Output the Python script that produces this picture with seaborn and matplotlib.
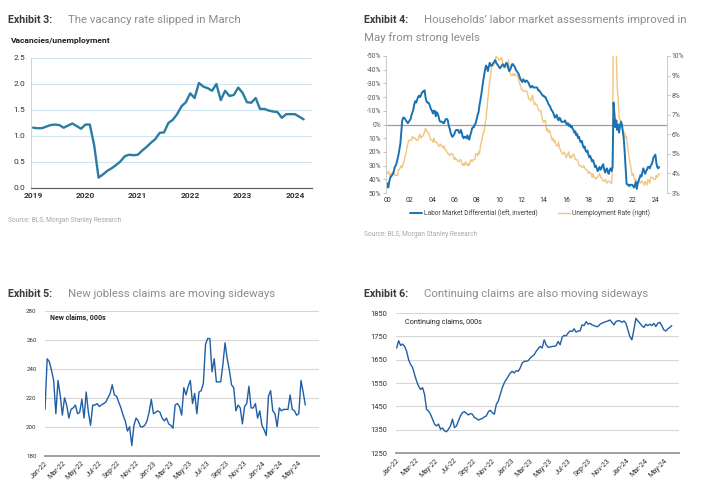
import numpy as np
import pandas as pd
import matplotlib
matplotlib.use('Agg')
import matplotlib.pyplot as plt
from matplotlib.lines import Line2D
import seaborn as sns

# ---------------- DATA ----------------
# Exhibit 3: vacancies / unemployment, monthly Jan-2019 .. Mar-2024
vu_ratio = [1.16, 1.15, 1.15, 1.18, 1.21, 1.22, 1.21, 1.16, 1.20, 1.24, 1.19, 1.14,
            1.22, 1.22, 0.82, 0.20, 0.26, 0.33, 0.38, 0.44, 0.51, 0.61, 0.64, 0.63,
            0.64, 0.72, 0.79, 0.87, 0.94, 1.06, 1.07, 1.25, 1.31, 1.42, 1.57, 1.65,
            1.82, 1.73, 2.02, 1.95, 1.92, 1.87, 2.00, 1.69, 1.87, 1.77, 1.79, 1.93,
            1.83, 1.65, 1.64, 1.73, 1.52, 1.52, 1.49, 1.47, 1.46, 1.35, 1.42, 1.42,
            1.42, 1.37, 1.32]
years3 = [2019, 2020, 2021, 2022, 2023, 2024]

# Exhibit 4: labor market differential (%, plotted inverted), monthly from Jan-2000
labor_diff = [43, 46, 42, 39, 38, 37, 36, 34, 31, 30, 28, 25, 22, 18, 14,
              5, -3, -5, -5, -4, -3, -2, -1, -2, -3, -4, -7, -9, -11, -15,
              -17, -16, -18, -20, -21, -20, -21, -23, -24, -24, -25, -20, -17, -16, -16,
              -15, -13, -11, -10, -8, -10, -10, -6, -9, -8, -6, -3, -2, -2, -2,
              -1, -1, -3, -4, -4, -3, 1, 3, 6, 8, 9, 8, 7, 5, 4,
              4, 4, 6, 6, 4, 6, 9, 10, 9, 9, 10, 8, 10, 11, 8,
              6, 3, 2, 2, 0, -1, -4, -7, -9, -14, -18, -22, -27, -32, -36,
              -40, -43, -42, -39, -42, -45, -43, -43, -44, -45, -46, -47, -45, -44, -43,
              -42, -41, -42, -43, -44, -43, -42, -44, -45, -44, -41, -39, -40, -42, -44,
              -44, -43, -42, -40, -39, -38, -37, -35, -33, -32,
              -31, -33, -32, -31, -32, -32, -31, -30, -28, -27, -28, -28, -27, -27, -27,
              -27, -27, -25, -25, -24, -23, -22, -21, -21, -20, -20, -18, -17, -15, -14,
              -13, -11, -10, -9, -7, -5, -6, -7, -4, -3, -5, -4, -2, -2, -2,
              -2, -3, -1, 0, -1, 1, 0, 2, 1, 3, 4, 6, 5, 8, 7,
              10, 9, 12, 13, 12, 15, 17, 16, 19, 20, 19, 22, 24, 23, 25,
              27, 26, 28, 31, 30, 32, 34, 33, 31, 33, 32, 30, 29, 33, 35,
              33, 32, 35, 36, 33, 32, 34, 31,
              -16, -8, 2, -3, 4, 0, 6, 1, -2, 0, 5, 10, 20, 32, 43,
              44, 44, 45, 44, 44, 44, 45, 46, 44, 42, 47, 43, 41, 39, 37,
              38, 35, 32, 34, 36, 34, 33, 31, 31, 32, 30, 29, 27, 24, 23,
              22, 28, 31, 32, 31]

# Exhibit 4: unemployment rate (%), monthly from Jan-2000
unemp_rate = [4.0, 4.1, 4.0, 3.8, 4.0, 4.0, 4.0, 4.1, 3.9, 3.9, 3.9, 3.9,
              4.2, 4.2, 4.3, 4.4, 4.3, 4.5, 4.6, 4.9, 5.0, 5.3, 5.5, 5.7,
              5.7, 5.7, 5.7, 5.9, 5.8, 5.8, 5.8, 5.7, 5.7, 5.7, 5.9, 6.0,
              5.8, 5.9, 5.9, 6.0, 6.1, 6.3, 6.2, 6.1, 6.1, 6.0, 5.8, 5.7,
              5.7, 5.6, 5.8, 5.6, 5.6, 5.6, 5.5, 5.4, 5.4, 5.5, 5.4, 5.4,
              5.3, 5.4, 5.2, 5.2, 5.1, 5.0, 5.0, 4.9, 5.0, 5.0, 5.0, 4.9,
              4.7, 4.8, 4.7, 4.7, 4.6, 4.6, 4.7, 4.7, 4.5, 4.4, 4.5, 4.4,
              4.6, 4.5, 4.4, 4.5, 4.4, 4.6, 4.7, 4.6, 4.7, 4.7, 4.7, 5.0,
              5.0, 4.9, 5.1, 5.0, 5.4, 5.6, 5.8, 6.1, 6.1, 6.5, 6.8, 7.3,
              7.8, 8.3, 8.7, 9.0, 9.4, 9.5, 9.5, 9.6, 9.8, 10.0, 9.9, 9.9,
              9.8, 9.8, 9.9, 9.9, 9.6, 9.4, 9.4, 9.5, 9.5, 9.4, 9.8, 9.3,
              9.1, 9.0, 9.0, 9.1, 9.0, 9.1, 9.0, 9.0, 9.0, 8.8, 8.6, 8.5,
              8.3, 8.3, 8.2, 8.2, 8.2, 8.2, 8.2, 8.0, 7.8, 7.8, 7.7, 7.9,
              8.0, 7.7, 7.5, 7.6, 7.5, 7.5, 7.3, 7.2, 7.2, 7.2, 6.9, 6.7,
              6.6, 6.7, 6.7, 6.2, 6.3, 6.1, 6.2, 6.1, 5.9, 5.7, 5.8, 5.6,
              5.7, 5.5, 5.4, 5.4, 5.6, 5.3, 5.2, 5.1, 5.0, 5.0, 5.1, 5.0,
              4.8, 4.9, 5.0, 5.1, 4.8, 4.9, 4.8, 4.9, 5.0, 4.9, 4.7, 4.7,
              4.7, 4.6, 4.4, 4.4, 4.4, 4.3, 4.3, 4.4, 4.3, 4.2, 4.2, 4.1,
              4.0, 4.1, 4.0, 4.0, 3.8, 4.0, 3.8, 3.8, 3.7, 3.8, 3.8, 3.9,
              4.0, 3.8, 3.8, 3.7, 3.6, 3.6, 3.7, 3.6, 3.5, 3.6, 3.6, 3.6,
              3.5, 3.5, 4.4, 14.8, 13.2, 11.0, 10.2, 8.4, 7.8, 6.9, 6.7, 6.7,
              6.4, 6.2, 6.1, 6.1, 5.8, 5.9, 5.4, 5.1, 4.7, 4.5, 4.2, 3.9,
              4.0, 3.8, 3.6, 3.7, 3.6, 3.6, 3.5, 3.6, 3.5, 3.6, 3.6, 3.5,
              3.4, 3.6, 3.5, 3.4, 3.7, 3.6, 3.5, 3.8, 3.8, 3.8, 3.7, 3.7,
              3.7, 3.9, 3.8, 3.9, 4.0]
left_ticks4 = [-50, -40, -30, -20, -10, 0, 10, 20, 30, 40, 50]
right_ticks4 = [3, 4, 5, 6, 7, 8, 9, 10]
years4 = list(range(2000, 2025, 2))

# Exhibit 5: new jobless claims (000s), weekly Jan-2022 .. May-2024
new_claims = [212, 247, 245, 239, 232, 209, 232, 222, 208, 220, 215, 206, 212, 213, 215,
              209, 210, 219, 206, 224, 210, 201, 215, 215, 216, 214, 215, 216, 217, 220,
              223, 229, 222, 221, 217, 213, 208, 204, 197, 200, 187, 201, 206, 204, 200,
              200, 201, 204, 210, 219, 209, 210, 211, 210, 206, 204, 206, 202, 201, 199,
              215, 216, 214, 208, 227, 222, 228, 232,
              216, 223, 209, 224, 225, 230, 257, 261, 261, 238, 247, 231, 231, 231, 243,
              258, 247, 239, 229, 227, 211, 215, 213, 202, 214, 216, 228, 213, 213, 216,
              206, 211, 201, 198, 194, 221, 225, 211, 209, 200, 213, 211, 212, 212, 212,
              222, 212, 211, 208, 209, 232, 224, 215]
yticks5 = [180, 200, 220, 240, 260, 280]

# Exhibit 6: continuing claims (000s), weekly Jan-2022 .. May-2024
cont_claims = [1700, 1731, 1711, 1717, 1707, 1686, 1650, 1629, 1617, 1586, 1558, 1537, 1522,
               1530, 1501, 1437, 1430, 1416, 1395, 1374, 1366, 1374, 1352, 1357, 1345, 1341,
               1352, 1366, 1395, 1359, 1366, 1388, 1409, 1423, 1427, 1420, 1413, 1419, 1416,
               1402, 1398, 1391, 1395, 1398, 1405, 1409, 1427, 1433, 1423, 1416, 1459, 1473,
               1501, 1530, 1551, 1565, 1579, 1593, 1600, 1593, 1603, 1600, 1615, 1636, 1643,
               1643, 1646, 1657, 1664, 1671, 1686, 1697, 1707,
               1700, 1735, 1714, 1703, 1704, 1707, 1707, 1710, 1728, 1714, 1746, 1754, 1752,
               1764, 1773, 1771, 1782, 1768, 1773, 1773, 1799, 1796, 1813, 1802, 1806, 1799,
               1796, 1792, 1792, 1802, 1806, 1810, 1813, 1816, 1820, 1810, 1799, 1813, 1817,
               1816, 1810, 1816, 1806, 1778, 1749, 1735, 1778, 1827, 1816, 1806, 1796, 1788,
               1802, 1796, 1802, 1796, 1806, 1792, 1806, 1810, 1796, 1778, 1773, 1782, 1788,
               1796]
yticks6 = [1250, 1350, 1450, 1550, 1650, 1750, 1850]

claims_start, claims_end = '2022-01-01', '2024-05-25'

# ---------------- STYLE ----------------
sns.set_style('white')
plt.rcParams['font.family'] = ['Roboto', 'DejaVu Sans']

W, H = 726, 500
fig = plt.figure(figsize=(W / 100, H / 100), dpi=100)


def rect(l, t, r, b):
    return [l / W, 1 - b / H, (r - l) / W, (b - t) / H]


def ftext(x, y, s, **kw):
    kw.setdefault('va', 'center')
    fig.text(x / W, 1 - y / H, s, **kw)


TITLE_DARK = '#3a3a3a'
TITLE_GRAY = '#8c8c8c'
SRC = '#a8a8a8'
TB = 7.7   # bold "Exhibit" size
TG = 8.2   # gray title size

# ---------------- TITLES ----------------
ftext(8, 20, 'Exhibit 3:', fontsize=TB, fontweight='bold', color=TITLE_DARK)
ftext(68, 20, 'The vacancy rate slipped in March', fontsize=TG, color=TITLE_GRAY)
ftext(364, 20, 'Exhibit 4:', fontsize=TB, fontweight='bold', color=TITLE_DARK)
ftext(424, 20, 'Households\u2019 labor market assessments improved in', fontsize=TG, color=TITLE_GRAY)
ftext(364, 38, 'May from strong levels', fontsize=TG, color=TITLE_GRAY)
ftext(8, 294, 'Exhibit 5:', fontsize=TB, fontweight='bold', color=TITLE_DARK)
ftext(68, 294, 'New jobless claims are moving sideways', fontsize=TG, color=TITLE_GRAY)
ftext(364, 294, 'Exhibit 6:', fontsize=TB, fontweight='bold', color=TITLE_DARK)
ftext(424, 294, 'Continuing claims are also moving sideways', fontsize=TG, color=TITLE_GRAY)

ftext(11, 40, 'Vacancies/unemployment', fontsize=6.1, fontweight='bold', color='#222222')
ftext(8, 220, 'Source: BLS, Morgan Stanley Research', fontsize=4.8, color=SRC)
ftext(364, 235, 'Source: BLS, Morgan Stanley Research', fontsize=4.8, color=SRC)

# ---------------- EXHIBIT 3 ----------------
ax3 = fig.add_axes(rect(31, 58, 311.7, 188))
df3 = pd.DataFrame({'t': 2019 + np.arange(len(vu_ratio)) / 12, 'v': vu_ratio})
sns.lineplot(data=df3, x='t', y='v', ax=ax3, color='#2a7ca2', lw=1.7)
ax3.set_xlim(2018.96, 2024.32)
ax3.set_ylim(0, 2.5)
ax3.set_yticks(np.arange(0, 2.51, 0.5))
ax3.set_yticklabels([f'{v:.1f}' for v in np.arange(0, 2.51, 0.5)])
ax3.set_xticks(years3)
ax3.set_xticklabels([str(y) for y in years3])
ax3.grid(axis='y', color='#cfe6f0', lw=0.8)
ax3.set_axisbelow(True)
for s in ['top', 'right']:
    ax3.spines[s].set_visible(False)
ax3.spines['left'].set_color('#cccccc')
ax3.spines['left'].set_linewidth(0.6)
ax3.spines['bottom'].set_color('#555555')
ax3.spines['bottom'].set_linewidth(0.8)
ax3.tick_params(axis='y', labelsize=6.0, length=2, width=0.5, color='#888888', labelcolor='#333333', pad=2)
ax3.tick_params(axis='x', labelsize=6.0, length=0, labelcolor='#333333', pad=3)
for lab in ax3.get_xticklabels():
    lab.set_fontweight('bold')
ax3.set_xlabel('')
ax3.set_ylabel('')

# ---------------- EXHIBIT 4 ----------------
ax4 = fig.add_axes(rect(386, 56, 667, 193))
ax4r = ax4.twinx()
t_diff = 2000 + np.arange(len(labor_diff)) / 12
t_unemp = 2000 + np.arange(len(unemp_rate)) / 12
sns.lineplot(x=t_unemp, y=unemp_rate, ax=ax4r, color='#f2c67f', lw=1.0)
sns.lineplot(x=t_diff, y=labor_diff, ax=ax4, color='#1a72b2', lw=1.4)
ax4.set_zorder(ax4r.get_zorder() + 1)
ax4.patch.set_visible(False)
ax4.axhline(0, color='#9c9c9c', lw=0.9, zorder=0.5)
ax4.set_xlim(1999.88, 2025.04)
ax4.set_ylim(50, -50)
ax4r.set_ylim(3, 10)
ax4.set_yticks(left_ticks4)
ax4.set_yticklabels([f'{v}%' for v in left_ticks4])
ax4r.set_yticks(right_ticks4)
ax4r.set_yticklabels([f'{v}%' for v in right_ticks4])
ax4.set_xticks(years4)
ax4.set_xticklabels([f'{y % 100:02d}' for y in years4])
for a in (ax4, ax4r):
    for s in ['top', 'bottom']:
        a.spines[s].set_visible(False)
    a.spines['left'].set_color('#c4c4c4')
    a.spines['right'].set_color('#c4c4c4')
    a.spines['left'].set_linewidth(0.6)
    a.spines['right'].set_linewidth(0.6)
    a.set_xlabel('')
    a.set_ylabel('')
ax4.spines['right'].set_visible(False)
ax4r.spines['left'].set_visible(False)
ax4.tick_params(axis='y', labelsize=4.9, length=2, width=0.5, color='#aaaaaa', labelcolor='#555555', pad=1.5)
ax4r.tick_params(axis='y', labelsize=4.9, length=2, width=0.5, color='#aaaaaa', labelcolor='#555555', pad=1.5)
ax4.tick_params(axis='x', labelsize=5.0, length=0, labelcolor='#333333', pad=3)

handles = [Line2D([], [], color='#1a72b2', lw=1.4), Line2D([], [], color='#f2c67f', lw=1.0)]
fig.legend(handles, ['Labor Market Differential (left, inverted)', 'Unemployment Rate (right)'],
           loc='center', bbox_to_anchor=(530 / W, 1 - 213 / H), ncol=2, frameon=False,
           fontsize=4.7, handlelength=1.9, handletextpad=0.3, columnspacing=3.0,
           labelcolor='#444444')

# ---------------- EXHIBIT 5 ----------------
month_ticks = pd.date_range('2022-01-01', '2024-05-01', freq='2MS')
month_labels = [d.strftime('%b-%y') for d in month_ticks]

ax5 = fig.add_axes(rect(45, 311, 319, 455.7))
dates5 = pd.date_range(claims_start, claims_end, periods=len(new_claims))
sns.lineplot(x=dates5, y=new_claims, ax=ax5, color='#1f5fa6', lw=1.0)
ax5.set_xlim(dates5[0], dates5[-1] + pd.Timedelta(days=46))
ax5.set_ylim(180, 280)
ax5.set_yticks(yticks5)
ax5.set_yticklabels([str(v) for v in yticks5])
ax5.grid(axis='y', color='#d6d6d6', lw=0.8)
ax5.set_axisbelow(True)
ax5.text(0.02, 0.95, 'New claims, 000s', transform=ax5.transAxes, fontsize=5.0,
         fontweight='bold', color='#222222', va='center', ha='left')

# ---------------- EXHIBIT 6 ----------------
ax6 = fig.add_axes(rect(395.7, 313, 679, 453))
dates6 = pd.date_range(claims_start, claims_end, periods=len(cont_claims))
sns.lineplot(x=dates6, y=cont_claims, ax=ax6, color='#1f5fa6', lw=1.0)
ax6.set_xlim(dates6[0] - pd.Timedelta(days=3), dates6[-1] + pd.Timedelta(days=23))
ax6.set_ylim(1250, 1850)
ax6.set_yticks(yticks6)
ax6.set_yticklabels([str(v) for v in yticks6])
ax6.grid(axis='y', color='#d6d6d6', lw=0.8)
ax6.set_axisbelow(True)
ax6.text(0.033, 0.93, 'Continuing claims, 000s', transform=ax6.transAxes, fontsize=5.2,
         color='#222222', va='center', ha='left')

for a, ylab in ((ax5, 4.4), (ax6, 5.4)):
    for s in ['top', 'right', 'left']:
        a.spines[s].set_visible(False)
    a.spines['bottom'].set_color('#a0a0a0')
    a.spines['bottom'].set_linewidth(1.4)
    a.set_xticks(month_ticks)
    a.set_xticklabels(month_labels, rotation=45, ha='right', rotation_mode='anchor')
    a.tick_params(axis='x', labelsize=5.1, length=0, labelcolor='#333333', pad=3)
    a.tick_params(axis='y', labelsize=ylab, length=0, labelcolor='#333333', pad=6)
    a.set_xlabel('')
    a.set_ylabel('')

fig.savefig('out.png', dpi=100)
